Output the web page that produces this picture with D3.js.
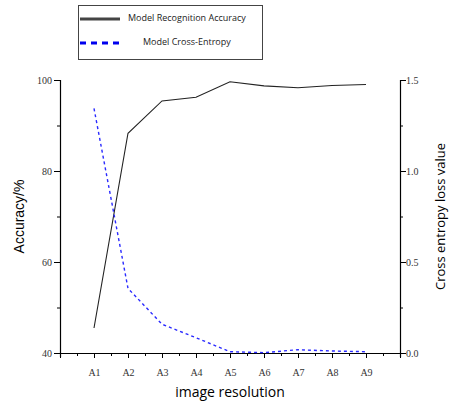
<!DOCTYPE html>
<html><head><meta charset="utf-8">
<script src="https://cdn.jsdelivr.net/npm/d3@7"></script>
<style>body{margin:0;background:#fff}svg{display:block}</style>
</head><body>
<script>
const categories = ["A1","A2","A3","A4","A5","A6","A7","A8","A9"];
const accuracy = [45.5, 88.3, 95.4, 96.2, 99.6, 98.7, 98.3, 98.8, 99.0];
const crossEntropy = [1.344, 0.355, 0.158, 0.084, 0.007, 0.002, 0.018, 0.011, 0.007];
const leftTicks = [40, 60, 80, 100];
const rightTicks = [0.0, 0.5, 1.0, 1.5];

const W = 449, H = 403;
const m = {left: 60, right: 400, top: 80, bottom: 353};
const svg = d3.select("body").append("svg").attr("width", W).attr("height", H);

const x = d3.scaleLinear().domain([0, 10]).range([m.left, m.right]);
const yL = d3.scaleLinear().domain([40, 100]).range([m.bottom, m.top]);
const yR = d3.scaleLinear().domain([0, 1.5]).range([m.bottom, m.top]);
const serif = "'Liberation Serif','DejaVu Serif',serif";

// bottom axis
const xAxis = d3.axisBottom(x).tickValues(d3.range(0, 10.01, 0.5)).tickSize(4)
  .tickFormat(d => (Number.isInteger(d) && d >= 1 && d <= 9) ? categories[d-1] : "");
const gx = svg.append("g").attr("transform", `translate(0,${m.bottom})`).call(xAxis);
gx.selectAll(".tick line").attr("y2", d => Number.isInteger(d) ? 5 : 3);
gx.selectAll("text").attr("font-family", serif).attr("font-size", 10).attr("dy", "1.6em").attr("fill", "#333");

// left axis
const gl = svg.append("g").attr("transform", `translate(${m.left},0)`)
  .call(d3.axisLeft(yL).tickValues(d3.range(40, 100.1, 10)).tickSize(5).tickFormat(d => leftTicks.includes(d) ? d : ""));
gl.selectAll(".tick line").attr("x2", d => leftTicks.includes(d) ? -6 : -3);
gl.selectAll("text").attr("font-family", serif).attr("font-size", 10).attr("fill", "#333").attr("x", -8);

// right axis
const gr = svg.append("g").attr("transform", `translate(${m.right},0)`)
  .call(d3.axisRight(yR).tickValues(d3.range(0, 1.51, 0.25)).tickSize(5)
    .tickFormat(d => rightTicks.some(t => Math.abs(t-d)<1e-6) ? d.toFixed(1) : ""));
gr.selectAll(".tick line").attr("x2", d => rightTicks.some(t => Math.abs(t-d)<1e-6) ? 6 : 3);
gr.selectAll("text").attr("font-family", serif).attr("font-size", 10).attr("fill", "#333").attr("x", 6);

svg.selectAll(".domain").attr("stroke", "#000").attr("stroke-width", 1.2);
svg.selectAll(".tick line").attr("stroke", "#000");

// lines
svg.append("path").datum(accuracy)
  .attr("d", d3.line().x((d,i) => x(i+1)).y(d => yL(d)))
  .attr("fill", "none").attr("stroke", "#222").attr("stroke-width", 1.1);
svg.append("path").datum(crossEntropy)
  .attr("d", d3.line().x((d,i) => x(i+1)).y(d => yR(d)))
  .attr("fill", "none").attr("stroke", "#2a2aff").attr("stroke-width", 1.4).attr("stroke-dasharray", "3,3");

// titles
svg.append("text").attr("transform", `translate(24,${(m.top+m.bottom)/2}) rotate(-90)`)
  .attr("text-anchor", "middle").attr("font-family", "'Liberation Sans',Arial,sans-serif").attr("font-size", 14).text("Accuracy/%");
svg.append("text").attr("transform", `translate(445,${(m.top+m.bottom)/2}) rotate(-90)`)
  .attr("text-anchor", "middle").attr("font-family", "'Open Sans',sans-serif").attr("font-size", 13).text("Cross entropy loss value");
svg.append("text").attr("x", (m.left+m.right)/2).attr("y", 397)
  .attr("text-anchor", "middle").attr("font-family", "'Open Sans',sans-serif").attr("font-size", 14).text("image resolution");

// legend
const lg = svg.append("g");
lg.append("rect").attr("x", 78.5).attr("y", 5.5).attr("width", 184).attr("height", 54)
  .attr("fill", "#fff").attr("stroke", "#444").attr("stroke-width", 1);
lg.append("line").attr("x1", 80).attr("x2", 120).attr("y1", 19).attr("y2", 19).attr("stroke", "#444").attr("stroke-width", 3);
lg.append("line").attr("x1", 80).attr("x2", 120).attr("y1", 43).attr("y2", 43).attr("stroke", "#0000ee").attr("stroke-width", 3).attr("stroke-dasharray", "6,5");
lg.append("text").attr("x", 128).attr("y", 21).attr("font-family", "'Open Sans',sans-serif").attr("font-size", 9).attr("fill", "#222").text("Model Recognition Accuracy");
lg.append("text").attr("x", 143).attr("y", 45).attr("font-family", "'Open Sans',sans-serif").attr("font-size", 9).attr("fill", "#222").text("Model Cross-Entropy");
</script>
</body></html>
